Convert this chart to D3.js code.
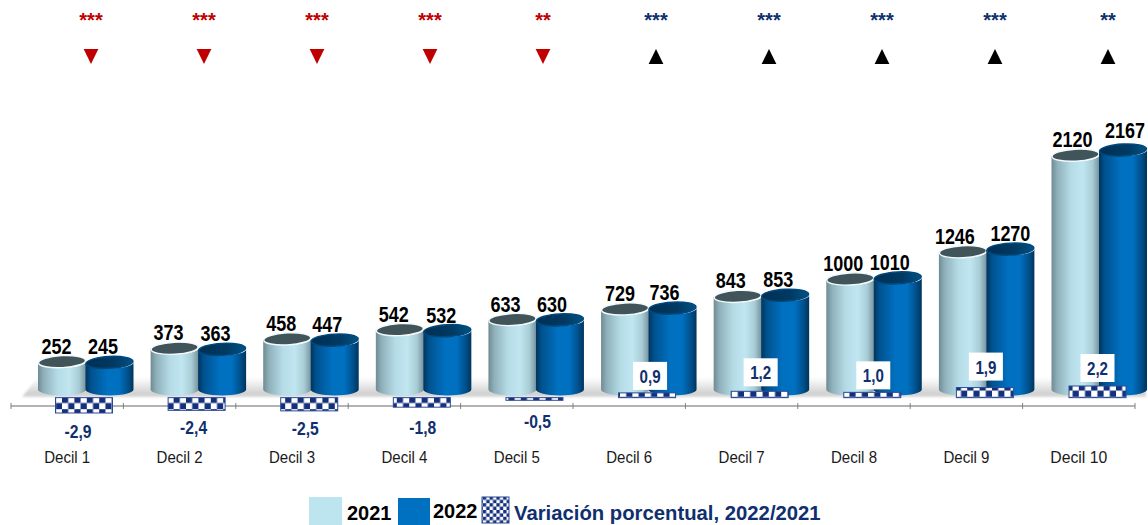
<!DOCTYPE html>
<html>
<head>
<meta charset="utf-8">
<script src="https://cdn.jsdelivr.net/npm/d3@7"></script>
<style>
  html, body { margin: 0; padding: 0; background: #fff; overflow: hidden; }
  svg { display: block; }
  text { font-family: "Liberation Sans", Arial, sans-serif; }
</style>
</head>
<body>
<script>
// Data
const deciles = ["Decil 1", "Decil 2", "Decil 3", "Decil 4", "Decil 5", "Decil 6", "Decil 7", "Decil 8", "Decil 9", "Decil 10"];
const values2021 = [252, 373, 458, 542, 633, 729, 843, 1000, 1246, 2120];
const values2022 = [245, 363, 447, 532, 630, 736, 853, 1010, 1270, 2167];
const variation = [-2.9, -2.4, -2.5, -1.8, -0.5, 0.9, 1.2, 1.0, 1.9, 2.2];
const significance = ["***", "***", "***", "***", "**", "***", "***", "***", "***", "**"];

// Hand placed labels, the original has them nudged around
const labelDx2021 = [-5.5, -6, -6, -6, -7, -5, -7, -7, -8, -3];
const labelDx2022 = [-6.5, -6.5, -7.5, -6, -8, -8, -7, -8, 0, 2];
const varLabelDx = [-6, -3, -4, 1, 3, 3, 1, 1, 1, 0];
const varLabelDy = [19, 18, 18, 21, 22, -16, -18, -16, -20, -17];

const svgWidth = 1148;
const svgHeight = 525;
const navy = "#0f2f6e";
const red = "#c00000";
const barRx = 24;
const barRy = 6;

const svg = d3.select("body").append("svg")
  .attr("width", svgWidth)
  .attr("height", svgHeight);

const defs = svg.append("defs");

function addGradient(id, stops) {
  const g = defs.append("linearGradient").attr("id", id);
  stops.forEach(s => g.append("stop").attr("offset", s[0]).attr("stop-color", s[1]));
}
addGradient("body2021", [[0, "#6f8b93"], [0.12, "#8fb0ba"], [0.4, "#b4dbe6"], [0.65, "#c0e7f1"], [0.85, "#a9cdd7"], [1, "#75929b"]]);
addGradient("body2022", [[0, "#00355f"], [0.12, "#00528f"], [0.45, "#0070c0"], [0.7, "#0070c0"], [0.88, "#00508c"], [1, "#00355c"]]);
addGradient("top2022", [[0, "#002f52"], [0.6, "#003a63"], [1, "#005285"]]);

const floorGradient = defs.append("linearGradient").attr("id", "floor").attr("x2", 0).attr("y2", 1);
floorGradient.append("stop").attr("offset", 0).attr("stop-color", "#d4d4d4").attr("stop-opacity", 0);
floorGradient.append("stop").attr("offset", 0.85).attr("stop-color", "#cfcfcf");
floorGradient.append("stop").attr("offset", 1).attr("stop-color", "#dcdcdc");

defs.append("filter").attr("id", "soft").append("feGaussianBlur").attr("stdDeviation", 1.2);

function addChecker(id, cell) {
  const p = defs.append("pattern").attr("id", id).attr("patternUnits", "userSpaceOnUse")
    .attr("width", cell * 2).attr("height", cell * 2);
  p.append("rect").attr("width", cell * 2).attr("height", cell * 2).attr("fill", "#fff");
  p.append("rect").attr("width", cell).attr("height", cell).attr("fill", "#14307c");
  p.append("rect").attr("x", cell).attr("y", cell).attr("width", cell).attr("height", cell).attr("fill", "#14307c");
}
addChecker("checker", 6.2);
addChecker("checkerSmall", 3.4);

// Scales
const x = d3.scaleBand().domain(deciles).range([11, 1135]);
const xBars = d3.scalePoint().domain(deciles).range([62, 1075.5]);
const xMarks = d3.scalePoint().domain(deciles).range([91, 1108]);
const y = d3.scaleLinear().domain([0, 2167]).range([389.5, 150]);
const yVar = d3.scaleLinear().domain([-2.9, 2.2]).range([413, 386]);

const cx2021 = d => xBars(d);
const cx2022 = d => xBars(d) + 47.5;
const cxVar = d => xBars(d) + 22;

// Floor under the cylinders
svg.append("path")
  .attr("d", `M22,397 L38,377 H1146 V397 Z`)
  .attr("fill", "url(#floor)")
  .attr("filter", "url(#soft)");

// Category axis with the ticks on the band edges
const axisG = svg.append("g").attr("transform", "translate(0,406)");
axisG.append("line").attr("x1", x.range()[0]).attr("x2", x.range()[1])
  .attr("stroke", "#b3b3b3").attr("stroke-width", 2);
axisG.selectAll(".edge")
  .data(d3.range(deciles.length + 1))
  .enter().append("line")
  .attr("class", "edge")
  .attr("x1", i => x.range()[0] + i * x.step())
  .attr("x2", i => x.range()[0] + i * x.step())
  .attr("y1", -3).attr("y2", 3)
  .attr("stroke", "#808080");

const labelAxis = svg.append("g").attr("transform", "translate(0,406)")
  .call(d3.axisBottom(x).tickSize(0).tickPadding(46));
labelAxis.select(".domain").remove();
labelAxis.selectAll("text")
  .attr("font-size", 16)
  .attr("font-family", "Liberation Sans")
  .attr("fill", "#1a1a1a")
  .attr("textLength", d => d === "Decil 10" ? 57 : 46)
  .attr("lengthAdjust", "spacingAndGlyphs");

// Cylinders
function cylinderPath(cx, v) {
  const top = y(v), base = y(0);
  return `M${cx - barRx},${top} A${barRx},${barRy} 0 0 0 ${cx + barRx},${top} `
    + `L${cx + barRx},${base} A${barRx},${barRy} 0 0 1 ${cx - barRx},${base} Z`;
}

function drawCylinders(values, cxFn, bodyFill, topFill, rim) {
  const g = svg.append("g").selectAll("g")
    .data(deciles)
    .enter().append("g");
  g.append("path")
    .attr("d", (d, i) => cylinderPath(cxFn(d), values[i]))
    .attr("fill", bodyFill);
  g.append("ellipse")
    .attr("cx", d => cxFn(d))
    .attr("cy", (d, i) => y(values[i]))
    .attr("rx", barRx - 0.5)
    .attr("ry", barRy)
    .attr("fill", topFill)
    .attr("stroke", rim)
    .attr("stroke-width", 1.4)
    .attr("transform", (d, i) => `rotate(-3 ${cxFn(d)} ${y(values[i])})`);
}
drawCylinders(values2021, cx2021, "url(#body2021)", "#41545a", "#f2fafc");
drawCylinders(values2022, cx2022, "url(#body2022)", "url(#top2022)", "#00497f");

// Value labels above the cylinders, squeezed because no narrow font is installed
function drawValueLabels(values, cxFn, dxs) {
  svg.append("g").selectAll("text")
    .data(deciles)
    .enter().append("text")
    .attr("x", (d, i) => cxFn(d) + dxs[i])
    .attr("y", (d, i) => y(values[i]) - (values[i] > 2150 ? 12 : 8))
    .attr("text-anchor", "middle")
    .attr("font-size", 22.5)
    .attr("font-weight", "bold")
    .attr("fill", "#000")
    .attr("textLength", (d, i) => String(values[i]).length * 10)
    .attr("lengthAdjust", "spacingAndGlyphs")
    .text((d, i) => values[i]);
}
drawValueLabels(values2021, cx2021, labelDx2021);
drawValueLabels(values2022, cx2022, labelDx2022);

// Variation bars
const zeroY = yVar(0);
svg.append("g").selectAll("rect")
  .data(deciles)
  .enter().append("rect")
  .attr("x", d => cxVar(d) - 28.5)
  .attr("width", 57)
  .attr("y", (d, i) => Math.min(yVar(variation[i]), zeroY))
  .attr("height", (d, i) => Math.abs(yVar(variation[i]) - zeroY))
  .attr("fill", "url(#checker)")
  .attr("stroke", "#2b4a94")
  .attr("stroke-width", 1);

// Variation labels
const fmt = v => v.toFixed(1).replace(".", ",");
const varLabels = svg.append("g").selectAll("g")
  .data(deciles)
  .enter().append("g")
  .attr("transform", (d, i) => `translate(${cxVar(d) + varLabelDx[i]},${yVar(variation[i]) + varLabelDy[i]})`);
varLabels.filter((d, i) => variation[i] > 0).append("rect")
  .attr("x", -17).attr("y", -15).attr("width", 34).attr("height", 28)
  .attr("fill", "#fff");
varLabels.append("text")
  .attr("text-anchor", "middle")
  .attr("y", 6)
  .attr("font-size", 18.5)
  .attr("font-weight", "bold")
  .attr("fill", navy)
  .attr("textLength", (d, i) => variation[i] < 0 ? 27 : 21)
  .attr("lengthAdjust", "spacingAndGlyphs")
  .text((d, i) => fmt(variation[i]));

// Significance stars and direction triangles
svg.append("g").selectAll("text")
  .data(deciles)
  .enter().append("text")
  .attr("x", d => xMarks(d))
  .attr("y", 27)
  .attr("text-anchor", "middle")
  .attr("font-size", 20)
  .attr("font-weight", "bold")
  .attr("fill", (d, i) => variation[i] < 0 ? red : navy)
  .text((d, i) => significance[i]);

const triangle = d3.symbol().type(d3.symbolTriangle).size(130);
svg.append("g").selectAll("path")
  .data(deciles)
  .enter().append("path")
  .attr("d", triangle)
  .attr("transform", (d, i) => variation[i] < 0
    ? `translate(${xMarks(d)},54) rotate(180) scale(0.85,1)`
    : `translate(${xMarks(d)},59) scale(0.85,1)`)
  .attr("fill", (d, i) => variation[i] < 0 ? red : "#000");

// Legend
const legend = svg.append("g");
legend.append("rect").attr("x", 309).attr("y", 497).attr("width", 33).attr("height", 28).attr("fill", "#bde5f0");
legend.append("rect").attr("x", 398).attr("y", 498).attr("width", 32).attr("height", 27).attr("fill", "#0070c0");
legend.append("rect").attr("x", 482).attr("y", 497).attr("width", 27).attr("height", 26)
  .attr("fill", "url(#checkerSmall)").attr("stroke", "#2b4a94");
legend.append("text").attr("x", 347).attr("y", 520).attr("font-size", 20).attr("font-weight", "bold").text("2021");
legend.append("text").attr("x", 433).attr("y", 518).attr("font-size", 20).attr("font-weight", "bold").text("2022");
legend.append("text").attr("x", 514).attr("y", 520).attr("font-size", 20.3).attr("font-weight", "bold")
  .attr("fill", navy).text("Variación porcentual, 2022/2021");
</script>
</body>
</html>
